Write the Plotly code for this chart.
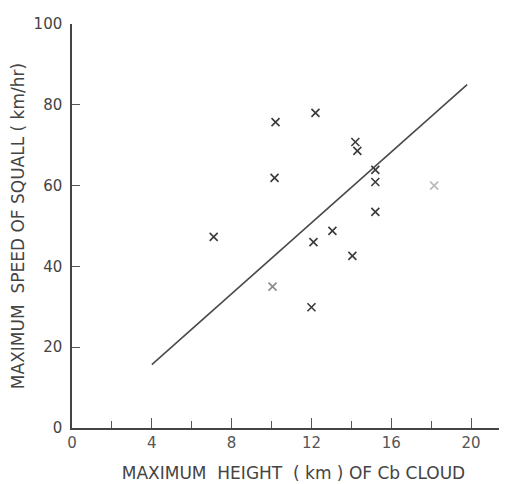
import plotly.graph_objects as go

# Observations: maximum height of Cb cloud (km) vs maximum speed of squall (km/hr)
height_km = [7.1, 10.2, 10.15, 12.2, 12.1, 12.0, 13.05, 14.05, 14.2, 14.3, 15.2, 15.2, 15.2, 18.15, 10.05]
speed_kmh = [47.3, 75.7, 61.9, 78.0, 46.0, 29.9, 48.8, 42.6, 70.8, 68.6, 63.9, 60.9, 53.5, 60.0, 35.0]

# Fitted regression line end points
fit_x = [4.0, 19.8]
fit_y = [15.7, 85.0]

x_tickvals = [0, 4, 8, 12, 16, 20]
y_tickvals = [0, 20, 40, 60, 80, 100]

ink = "#3a3a3a"
faint = "#b8b8b8"
point_colors = [ink] * 13 + [faint, "#8a8a8a"]

fig = go.Figure()
fig.add_trace(go.Scatter(
    x=fit_x, y=fit_y, mode="lines",
    line=dict(color="#4a4a4a", width=1.6),
    showlegend=False, hoverinfo="skip",
))
fig.add_trace(go.Scatter(
    x=height_km, y=speed_kmh, mode="markers",
    marker=dict(symbol="x-thin-open", size=8, color=point_colors,
                line=dict(width=1.6, color=point_colors)),
    showlegend=False,
))

font = dict(family="DejaVu Sans, Open Sans, sans-serif", color="#444444")

# The page body adds an 8px margin, so the figure is offset to sit inside the window.
fig.update_layout(
    width=507, height=476,
    margin=dict(l=64, r=0, t=16, b=56),
    paper_bgcolor="white", plot_bgcolor="white",
    font=font,
    xaxis=dict(
        range=[0, 22.2], tickvals=x_tickvals,
        ticks="inside", ticklen=10, tickwidth=1.2, tickcolor="#555",
        minor=dict(dtick=2, ticks="inside", ticklen=7, tickwidth=1.2, tickcolor="#555", showgrid=False),
        showline=True, linecolor="#444", linewidth=1.5,
        showgrid=False, zeroline=False, automargin=False,
        tickfont=dict(size=15, color="#555"),
        title=dict(text="MAXIMUM  HEIGHT  ( km ) OF Cb CLOUD", font=dict(size=17, color="#444"), standoff=16),
    ),
    yaxis=dict(
        range=[0, 100], tickvals=y_tickvals,
        ticks="inside", ticklen=8, tickwidth=1.2, tickcolor="#555",
        showline=True, linecolor="#444", linewidth=1.5,
        showgrid=False, zeroline=False, automargin=False,
        tickfont=dict(size=15, color="#444"),
        ticklabelstandoff=5,
        title=dict(text="MAXIMUM  SPEED OF SQUALL ( km/hr)", font=dict(size=17, color="#444"), standoff=7),
    ),
)

fig.write_html("out.html")
